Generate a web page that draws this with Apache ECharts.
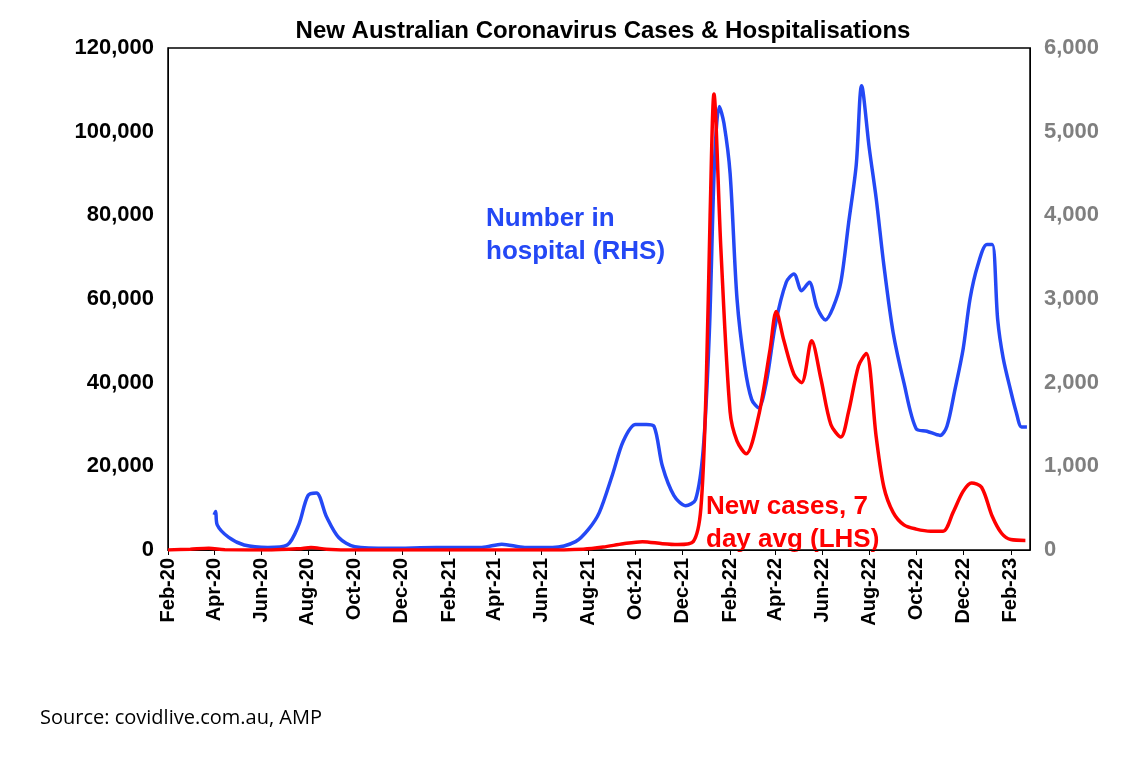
<!DOCTYPE html><html><head><meta charset="utf-8"><script src="https://cdn.jsdelivr.net/npm/echarts@6/dist/echarts.min.js"></script></head><body style="margin:0;background:#fff"><div id="c" style="width:1144px;height:757px"></div><script>
const caseDates=['2020-02-01','2020-03-01','2020-03-25','2020-04-15','2020-06-15','2020-07-20','2020-08-05','2020-08-25','2020-10-01','2021-06-01','2021-07-25','2021-08-20','2021-09-15','2021-10-10','2021-11-05','2021-11-25','2021-12-15','2021-12-25','2022-01-01','2022-01-06','2022-01-11','2022-01-20','2022-02-01','2022-02-10','2022-02-22','2022-03-10','2022-03-25','2022-04-02','2022-04-12','2022-04-25','2022-05-05','2022-05-18','2022-05-30','2022-06-12','2022-06-25','2022-07-05','2022-07-18','2022-07-28','2022-08-10','2022-08-20','2022-09-01','2022-09-15','2022-10-01','2022-10-20','2022-11-05','2022-11-18','2022-12-01','2022-12-12','2022-12-25','2023-01-08','2023-01-20','2023-02-01','2023-02-20'];
const cases=[0,200,400,50,0,300,600,200,0,0,200,700,1500,2000,1500,1300,2000,10000,40000,80000,109000,72000,33000,26000,23000,32000,48000,57000,50000,42000,40000,50000,41000,30000,27000,33000,44000,47000,27000,15000,9000,6000,5000,4500,4500,9000,14000,16000,15000,8000,4000,2500,2300];
const hospDates=['2020-04-01','2020-04-03','2020-04-05','2020-04-20','2020-05-10','2020-06-10','2020-07-05','2020-07-20','2020-08-01','2020-08-12','2020-08-25','2020-09-10','2020-10-01','2020-11-15','2021-01-15','2021-03-15','2021-04-10','2021-05-10','2021-06-15','2021-07-15','2021-08-01','2021-08-15','2021-09-01','2021-09-15','2021-10-01','2021-10-15','2021-10-25','2021-11-05','2021-11-20','2021-12-05','2021-12-18','2021-12-28','2022-01-05','2022-01-12','2022-01-18','2022-01-24','2022-02-01','2022-02-10','2022-02-20','2022-03-01','2022-03-10','2022-03-20','2022-04-01','2022-04-15','2022-04-25','2022-05-05','2022-05-15','2022-05-25','2022-06-05','2022-06-15','2022-06-25','2022-07-05','2022-07-15','2022-07-22','2022-08-01','2022-08-10','2022-08-20','2022-09-01','2022-09-15','2022-10-01','2022-10-15','2022-11-01','2022-11-10','2022-11-20','2022-12-01','2022-12-10','2022-12-20','2023-01-01','2023-01-08','2023-01-15','2023-01-22','2023-02-01','2023-02-08','2023-02-15','2023-02-22'];
const hosp=[420,460,300,150,60,30,60,300,650,680,400,150,40,20,30,30,70,30,30,100,250,450,900,1300,1500,1500,1480,1000,650,530,600,1200,2600,4700,5300,5100,4500,3000,2200,1800,1700,2000,2700,3200,3300,3100,3200,2900,2750,2900,3200,3900,4600,5550,4800,4200,3400,2600,2000,1450,1420,1370,1480,1900,2400,3000,3400,3650,3650,2750,2300,1900,1650,1470,1470];
const tickMonths=['2020-02','2020-04','2020-06','2020-08','2020-10','2020-12','2021-02','2021-04','2021-06','2021-08','2021-10','2021-12','2022-02','2022-04','2022-06','2022-08','2022-10','2022-12','2023-02'];
const ts=s=>new Date(s+(s.length===7?'-01':'')+'T00:00:00Z').getTime();
const mon=['Jan','Feb','Mar','Apr','May','Jun','Jul','Aug','Sep','Oct','Nov','Dec'];
const tickVals=tickMonths.map(ts);
const ch=echarts.init(document.getElementById('c'));
const F='Arial, Liberation Sans, sans-serif';
ch.setOption({animation:false,
title:{text:'New Australian Coronavirus Cases & Hospitalisations',left:598,top:14,textAlign:'center',textStyle:{fontFamily:F,fontSize:24,fontWeight:'bold',color:'#000'}},
grid:{left:168,right:114,top:48,bottom:207},
xAxis:{type:'value',min:ts('2020-02-01'),max:ts('2023-02-26'),splitLine:{show:false},
axisLine:{lineStyle:{color:'#000'}},
axisTick:{show:true,customValues:tickVals,lineStyle:{color:'#000'}},
axisLabel:{customValues:tickVals,rotate:90,fontFamily:F,fontSize:20,fontWeight:'bold',color:'#000',margin:8,showMaxLabel:true,showMinLabel:true,
formatter:v=>{const d=new Date(v);return mon[d.getUTCMonth()]+'-'+String(d.getUTCFullYear()).slice(2);}}},
yAxis:[{type:'value',min:0,max:120000,interval:20000,splitLine:{show:false},axisLine:{show:true,lineStyle:{color:'#000'}},axisTick:{show:false},
axisLabel:{fontFamily:F,fontSize:22,fontWeight:'bold',color:'#000',margin:14}},
{type:'value',min:0,max:6000,interval:1000,splitLine:{show:false},axisLine:{show:true,lineStyle:{color:'#000'}},axisTick:{show:false},
axisLabel:{fontFamily:F,fontSize:22,fontWeight:'bold',color:'#7f7f7f',margin:14}}],
series:[
{type:'line',yAxisIndex:1,smooth:0.3,showSymbol:false,lineStyle:{color:'#2448f5',width:3.5},data:hospDates.map((d,i)=>[ts(d),hosp[i]])},
{type:'line',yAxisIndex:0,smooth:0.3,showSymbol:false,lineStyle:{color:'#ff0000',width:3.5},data:caseDates.map((d,i)=>[ts(d),cases[i]])}],
graphic:[
{type:'rect',shape:{x:168,y:48,width:862,height:502},style:{fill:'none',stroke:'#000',lineWidth:1.5},silent:true},
{type:'text',left:486,top:202,style:{text:'Number in\nhospital (RHS)',fontFamily:F,fontSize:26,fontWeight:'bold',fill:'#2448f5',lineHeight:33}},
{type:'text',left:706,top:490,style:{text:'New cases, 7\nday avg (LHS)',fontFamily:F,fontSize:26,fontWeight:'bold',fill:'#ff0000',lineHeight:33}},
{type:'text',left:40,top:708,style:{text:'Source: covidlive.com.au, AMP',fontFamily:'Open Sans, Noto Sans, sans-serif',fontSize:20,fill:'#000'}}]});
</script></body></html>
